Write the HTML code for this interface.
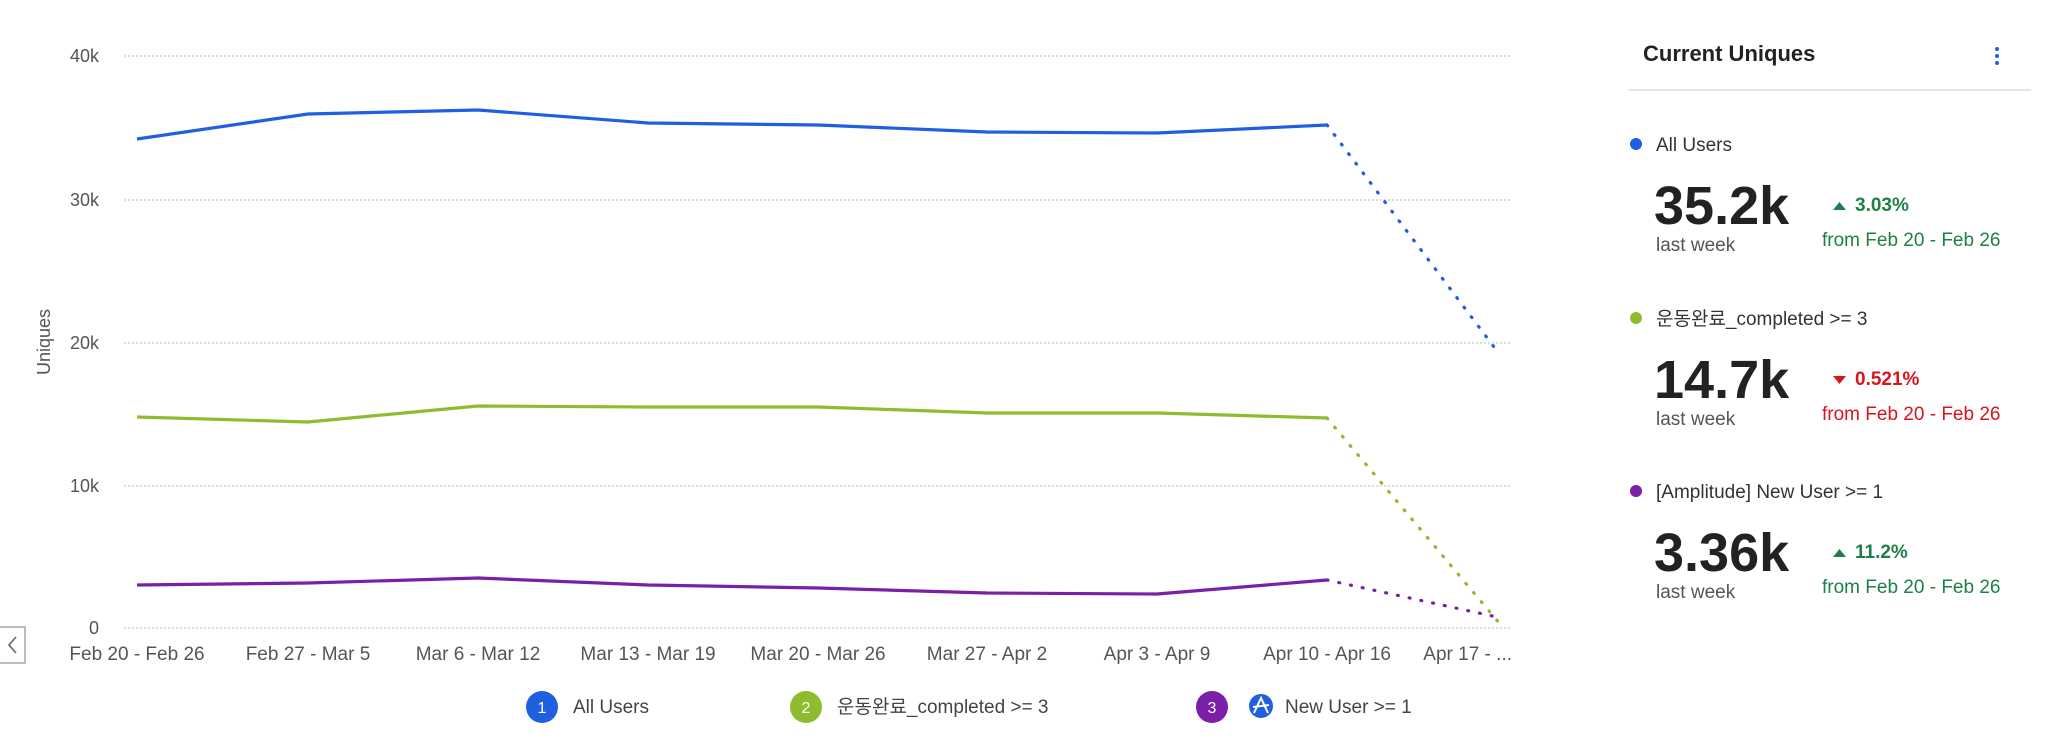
<!DOCTYPE html>
<html><head><meta charset="utf-8"><style>
body{margin:0;background:#fff;}
svg text{font-family:"Liberation Sans","Noto Sans CJK KR",sans-serif;}
</style></head><body>
<svg width="2048" height="751" viewBox="0 0 2048 751" xmlns="http://www.w3.org/2000/svg">
<g stroke="#c8c8c8" stroke-width="1.3" stroke-dasharray="2,2">
<line x1="124" y1="56" x2="1512" y2="56"/>
<line x1="124" y1="200" x2="1512" y2="200"/>
<line x1="124" y1="343" x2="1512" y2="343"/>
<line x1="124" y1="486" x2="1512" y2="486"/>
<line x1="124" y1="628" x2="1512" y2="628"/>
</g>
<g fill="#555" font-size="18" text-anchor="end">
<text x="99" y="62">40k</text><text x="99" y="206">30k</text><text x="99" y="349">20k</text><text x="99" y="492">10k</text><text x="99" y="634">0</text>
</g>
<text transform="translate(50,342) rotate(-90)" text-anchor="middle" font-size="18" fill="#555">Uniques</text>
<g fill="#555" font-size="19" text-anchor="middle">
<text x="137" y="660">Feb 20 - Feb 26</text><text x="308" y="660">Feb 27 - Mar 5</text><text x="478" y="660">Mar 6 - Mar 12</text><text x="648" y="660">Mar 13 - Mar 19</text><text x="818" y="660">Mar 20 - Mar 26</text><text x="987" y="660">Mar 27 - Apr 2</text><text x="1157" y="660">Apr 3 - Apr 9</text><text x="1327" y="660">Apr 10 - Apr 16</text><text x="1512" y="660" text-anchor="end">Apr 17 - ...</text>
</g>
<rect x="-1" y="627" width="26" height="36" fill="#fff" stroke="#999" stroke-width="1.3"/>
<path d="M16 637 L9 645 L16 653" fill="none" stroke="#666" stroke-width="1.6"/>
<g fill="none" stroke-width="3.2" stroke-linejoin="round">
<polyline stroke="#1f5fe0" points="137,139 308,114 478,110 648,123 818,125 987,132 1157,133 1327,125"/>
<polyline stroke="#8fbc2f" points="137,417 308,422 478,406 648,407 818,407 987,413 1157,413 1327,418"/>
<polyline stroke="#7b1fa8" points="137,585 308,583 478,578 648,585 818,588 987,593 1157,594 1327,580"/>
</g>
<g fill="none" stroke-width="3.2" stroke-dasharray="1,11" stroke-linecap="round">
<line stroke="#1f5fe0" x1="1327" y1="125" x2="1497" y2="351"/>
<line stroke="#8fbc2f" x1="1327" y1="418" x2="1500" y2="624"/>
<line stroke="#7b1fa8" x1="1327" y1="580" x2="1497" y2="617"/>
</g>
<g font-size="19">
<circle cx="542" cy="707" r="16" fill="#1f5fe0"/><text x="542" y="713" fill="#fff" font-size="16" text-anchor="middle">1</text><text x="573" y="713" fill="#444">All Users</text>
<circle cx="806" cy="707" r="16" fill="#8fbc2f"/><text x="806" y="713" fill="#fff" font-size="16" text-anchor="middle">2</text><text x="837" y="713" fill="#444">운동완료_completed &gt;= 3</text>
<circle cx="1212" cy="707" r="16" fill="#7b1fa8"/><text x="1212" y="713" fill="#fff" font-size="16" text-anchor="middle">3</text>
<circle cx="1261" cy="706" r="12" fill="#1f5fe0"/><path d="M1254 713 L1261 698 L1268 713 M1253 707 L1269 705" stroke="#fff" stroke-width="2" fill="none"/>
<text x="1285" y="713" fill="#444">New User &gt;= 1</text>
</g>
<text x="1643" y="61" font-size="22" font-weight="bold" fill="#222">Current Uniques</text>
<g fill="#1f5fe0"><circle cx="1997" cy="49" r="2"/><circle cx="1997" cy="56" r="2"/><circle cx="1997" cy="63" r="2"/></g>
<line x1="1628" y1="90" x2="2031" y2="90" stroke="#ddd" stroke-width="1.5"/>
<g>
<circle cx="1636" cy="144" r="6" fill="#1f5fe0"/><text x="1656" y="151" font-size="19" fill="#333">All Users</text>
<text x="1654" y="224" font-size="54" font-weight="bold" fill="#222">35.2k</text>
<text x="1656" y="251" font-size="19" fill="#555">last week</text>
<path d="M1833 210 L1846 210 L1839.5 202 Z" fill="#1e8046"/><text x="1855" y="211" font-size="19" font-weight="bold" fill="#1e8046">3.03%</text>
<text x="1822" y="246" font-size="19" fill="#1e8046">from Feb 20 - Feb 26</text>
</g>
<g transform="translate(0,174)">
<circle cx="1636" cy="144" r="6" fill="#8fbc2f"/><text x="1656" y="151" font-size="19" fill="#333">운동완료_completed &gt;= 3</text>
<text x="1654" y="224" font-size="54" font-weight="bold" fill="#222">14.7k</text>
<text x="1656" y="251" font-size="19" fill="#555">last week</text>
<path d="M1833 202 L1846 202 L1839.5 210 Z" fill="#d8141e"/><text x="1855" y="211" font-size="19" font-weight="bold" fill="#d8141e">0.521%</text>
<text x="1822" y="246" font-size="19" fill="#d8141e">from Feb 20 - Feb 26</text>
</g>
<g transform="translate(0,347)">
<circle cx="1636" cy="144" r="6" fill="#7b1fa8"/><text x="1656" y="151" font-size="19" fill="#333">[Amplitude] New User &gt;= 1</text>
<text x="1654" y="224" font-size="54" font-weight="bold" fill="#222">3.36k</text>
<text x="1656" y="251" font-size="19" fill="#555">last week</text>
<path d="M1833 210 L1846 210 L1839.5 202 Z" fill="#1e8046"/><text x="1855" y="211" font-size="19" font-weight="bold" fill="#1e8046">11.2%</text>
<text x="1822" y="246" font-size="19" fill="#1e8046">from Feb 20 - Feb 26</text>
</g>
</svg>
</body></html>
